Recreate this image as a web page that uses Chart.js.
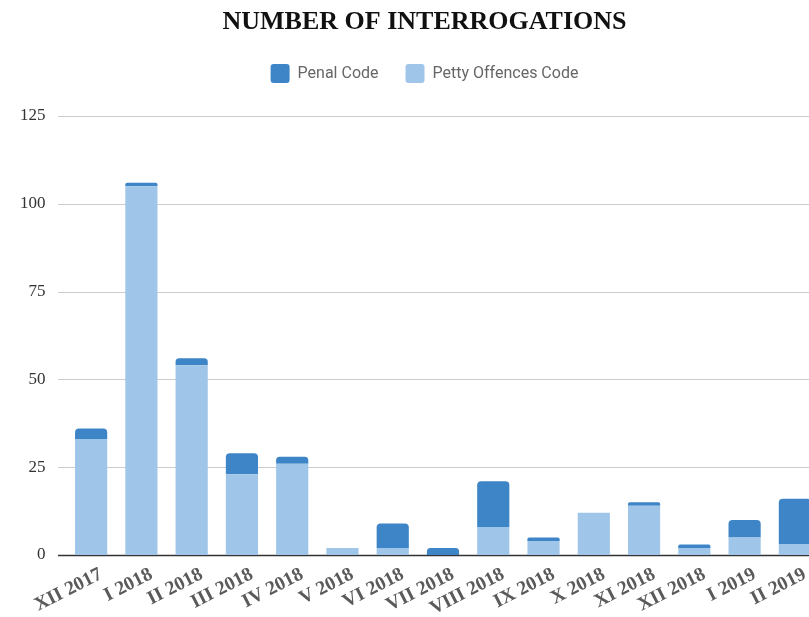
<!DOCTYPE html>
<html>
<head>
<meta charset="utf-8">
<script src="https://cdn.jsdelivr.net/npm/chart.js@4/dist/chart.umd.min.js"></script>
<style>
  html, body { margin: 0; padding: 0; overflow: hidden; background: #fff; }
  #wrap { width: 849px; height: 617px; }
</style>
</head>
<body>
<div id="wrap"><canvas id="chart" width="849" height="617"></canvas></div>
<script>
const months = ["XII 2017", "I 2018", "II 2018", "III 2018", "IV 2018", "V 2018", "VI 2018",
  "VII 2018", "VIII 2018", "IX 2018", "X 2018", "XI 2018", "XII 2018", "I 2019", "II 2019"];
const pettyOffences = [33, 105, 54, 23, 26, 2, 2, 0, 8, 4, 12, 14, 2, 5, 3];
const penalCode = [3, 1, 2, 6, 2, 0, 7, 2, 13, 1, 0, 1, 1, 5, 13];
const yTicks = [0, 25, 50, 75, 100, 125];

// gridlines start a bit left of the first category, like the original
const gridPlugin = {
  id: "leftGrid",
  beforeDatasetsDraw(chart) {
    const { ctx, chartArea, scales } = chart;
    const x0 = chartArea.left - 8;
    ctx.save();
    yTicks.forEach((v) => {
      const y = Math.round(scales.y.getPixelForValue(v)) + 0.5;
      ctx.strokeStyle = v === 0 ? "#333" : "#ccc";
      ctx.lineWidth = v === 0 ? 1.5 : 1;
      ctx.beginPath();
      ctx.moveTo(x0, y);
      ctx.lineTo(chartArea.right, y);
      ctx.stroke();
    });
    ctx.restore();
  },
};

new Chart(document.getElementById("chart"), {
  type: "bar",
  data: {
    labels: months,
    datasets: [
      {
        label: "Petty Offences Code",
        data: pettyOffences,
        backgroundColor: "#9fc5e8",
        borderRadius: 0,
      },
      {
        label: "Penal Code",
        data: penalCode,
        backgroundColor: "#3d85c6",
        borderRadius: { topLeft: 4, topRight: 4 },
        borderSkipped: false,
      },
    ],
  },
  plugins: [gridPlugin],
  options: {
    responsive: false,
    animation: false,
    layout: { padding: { left: 29, right: 29, top: 0, bottom: 0 } },
    datasets: { bar: { categoryPercentage: 1, barPercentage: 0.64 } },
    plugins: {
      title: {
        display: true,
        text: "NUMBER OF INTERROGATIONS",
        color: "#111",
        font: { family: "Liberation Serif", size: 26, weight: "bold", lineHeight: 1 },
        padding: { top: 9, bottom: 2 },
      },
      legend: {
        reverse: true,
        labels: {
          boxWidth: 19,
          boxHeight: 19,
          padding: 27,
          color: "#666",
          font: { family: "Roboto", size: 16 },
          useBorderRadius: true,
          borderRadius: 3,
        },
      },
      tooltip: { enabled: false },
    },
    scales: {
      x: {
        stacked: true,
        grid: { display: false, drawTicks: false },
        border: { display: false },
        ticks: {
          autoSkip: false,
          minRotation: 27,
          maxRotation: 27,
          padding: 8,
          labelOffset: 10,
          color: "#5a5a5a",
          font: { family: "Liberation Serif", size: 19.5, weight: "bold" },
        },
        afterFit(scale) { scale.height = 62; },
      },
      // empty band between legend and plot
      gap: {
        type: "category",
        position: "top",
        grid: { display: false, drawTicks: false },
        border: { display: false },
        ticks: { display: false },
        afterFit(scale) { scale.height = 23; },
      },
      y: {
        stacked: true,
        min: 0,
        max: 125,
        grid: { display: false, drawTicks: false },
        border: { display: false },
        ticks: {
          stepSize: 25,
          // mirrored so the labels are not clipped to the narrow axis box
          mirror: true,
          crossAlign: "far",
          padding: -46,
          color: "#333",
          font: { family: "Liberation Serif", size: 17 },
        },
        afterFit(scale) { scale.width = 37; },
      },
    },
  },
});
</script>
</body>
</html>
